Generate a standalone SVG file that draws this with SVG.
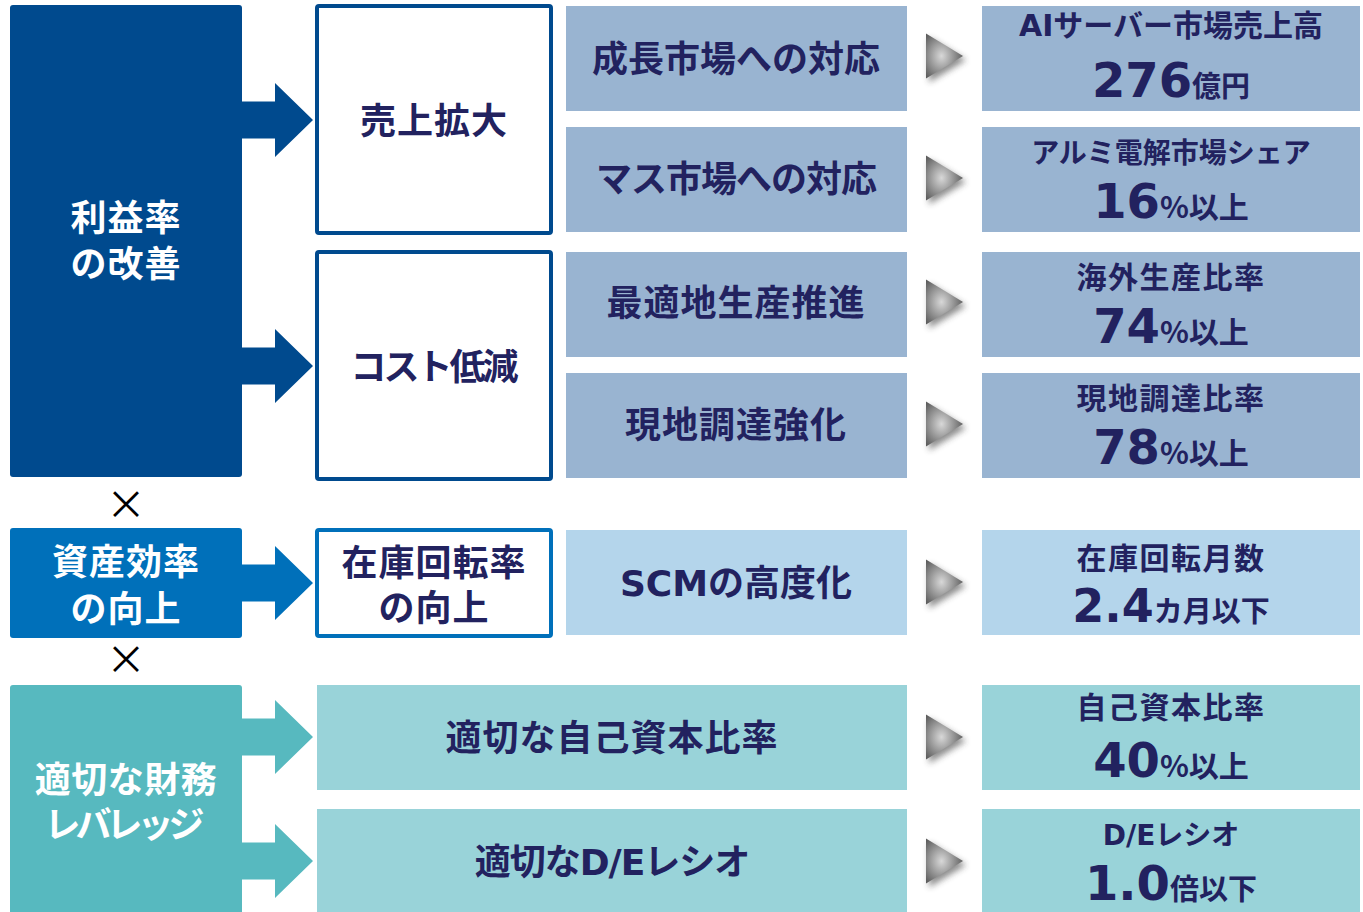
<svg xmlns="http://www.w3.org/2000/svg" width="1363" height="912" viewBox="0 0 1363 912">
<style>
.jp{font-family:"Noto Sans CJK JP","Noto Sans CJK SC",sans-serif;font-weight:700;text-anchor:middle}
.w{fill:#FFFFFF}
.n{fill:#22225F}
.lat{font-family:"DejaVu Sans","Noto Sans CJK JP",sans-serif;font-weight:700}
.num{font-family:"DejaVu Sans",sans-serif;font-weight:700;font-size:48px}
.f36{font-size:36px}
.f34{font-size:34px}
.f30{font-size:30px}
.f29{font-size:29px}
.f28{font-size:28px}
.b1{fill:#99B4D1}
.b2{fill:#B4D5EB}
.b3{fill:#99D3D9}
.ol{fill:#FFFFFF;stroke-width:4}
.tri{fill:url(#tg)}
.sh{fill:#333;opacity:0.55;filter:url(#blur)}
.x{font-family:"Noto Sans CJK JP",sans-serif;font-weight:400;font-size:40px;fill:#000;text-anchor:middle}
</style>
<defs>
<radialGradient id="tg" cx="0.42" cy="0.5" r="0.6">
<stop offset="0" stop-color="#D8D8D8"/>
<stop offset="1" stop-color="#5E5E5E"/>
</radialGradient>
<filter id="blur" x="-50%" y="-50%" width="200%" height="200%"><feGaussianBlur stdDeviation="3"/></filter>
<polygon id="t" points="0,-22.5 37,0 0,22.5"/>
</defs>

<g id="connectors">
<polygon fill="#004A8E" points="240,101.5 275,101.5 275,83 313,120 275,157 275,138.5 240,138.5"/>
<polygon fill="#004A8E" points="240,347.5 275,347.5 275,329 313,366 275,403 275,384.5 240,384.5"/>
<polygon fill="#0070BA" points="240,564.5 275,564.5 275,546 313,583 275,620 275,601.5 240,601.5"/>
<polygon fill="#57B9BF" points="240,718.5 275,718.5 275,700 313,737 275,774 275,755.5 240,755.5"/>
<polygon fill="#57B9BF" points="240,842.5 275,842.5 275,824 313,861 275,898 275,879.5 240,879.5"/>
<g>
<use href="#t" class="sh" x="929" y="60"/><use href="#t" class="tri" x="926" y="56"/>
<use href="#t" class="sh" x="929" y="182"/><use href="#t" class="tri" x="926" y="178"/>
<use href="#t" class="sh" x="929" y="306"/><use href="#t" class="tri" x="926" y="302"/>
<use href="#t" class="sh" x="929" y="428"/><use href="#t" class="tri" x="926" y="424"/>
<use href="#t" class="sh" x="929" y="586"/><use href="#t" class="tri" x="926" y="582"/>
<use href="#t" class="sh" x="929" y="741"/><use href="#t" class="tri" x="926" y="737"/>
<use href="#t" class="sh" x="929" y="865"/><use href="#t" class="tri" x="926" y="861"/>
</g>
</g>

<g id="left1">
<rect x="10" y="5" width="232" height="472" rx="3" fill="#004A8E"/>
<text class="jp w f36" letter-spacing="1"><tspan x="126" y="231">利益率</tspan><tspan x="126" y="277">の改善</tspan></text>
</g>
<g id="times1"><text class="x" x="126" y="519">×</text></g>
<g id="left2">
<rect x="10" y="528" width="232" height="110" rx="3" fill="#0070BA"/>
<text class="jp w f36" letter-spacing="1"><tspan x="126" y="575">資産効率</tspan><tspan x="126" y="622">の向上</tspan></text>
</g>
<g id="times2"><text class="x" x="126" y="674">×</text></g>
<g id="left3">
<rect x="10" y="685" width="232" height="232" rx="3" fill="#57B9BF"/>
<text class="jp w f36"><tspan x="126" y="793" letter-spacing="0.5">適切な財務</tspan><tspan x="122" y="838" letter-spacing="-5">レバレッジ</tspan></text>
</g>

<g id="mid1">
<rect class="ol" x="317" y="6" width="234" height="227" rx="2" stroke="#004A8E"/>
<text class="jp n f36" x="434" y="134" letter-spacing="1">売上拡大</text>
</g>
<g id="mid2">
<rect class="ol" x="317" y="252" width="234" height="227" rx="2" stroke="#004A8E"/>
<text class="jp n f36" x="433" y="380" letter-spacing="-3">コスト低減</text>
</g>
<g id="mid3">
<rect class="ol" x="317" y="530" width="234" height="106" rx="2" stroke="#0070BA"/>
<text class="jp n f36" letter-spacing="1"><tspan x="434" y="576">在庫回転率</tspan><tspan x="434" y="621">の向上</tspan></text>
</g>

<g id="m1"><rect class="b1" x="566" y="6" width="341" height="105"/><text class="jp n f36" x="736" y="72">成長市場への対応</text></g>
<g id="m2"><rect class="b1" x="566" y="127" width="341" height="105"/><text class="jp n f36" x="736" y="192" letter-spacing="-1">マス市場への対応</text></g>
<g id="m3"><rect class="b1" x="566" y="252" width="341" height="105"/><text class="jp n f36" x="736" y="316" letter-spacing="1">最適地生産推進</text></g>
<g id="m4"><rect class="b1" x="566" y="373" width="341" height="105"/><text class="jp n f36" x="736" y="438" letter-spacing="1">現地調達強化</text></g>
<g id="m5"><rect class="b2" x="566" y="530" width="341" height="105"/><text class="jp n f36" x="736" y="596"><tspan class="lat">SCM</tspan>の高度化</text></g>
<g id="m6"><rect class="b3" x="317" y="685" width="590" height="105"/><text class="jp n f36" x="612" y="751" letter-spacing="1">適切な自己資本比率</text></g>
<g id="m7"><rect class="b3" x="317" y="809" width="590" height="110"/><text class="jp n f36" x="612" y="875" letter-spacing="-1">適切な<tspan class="lat">D/E</tspan>レシオ</text></g>

<g id="r1"><rect class="b1" x="982" y="6" width="378" height="105"/>
<text class="jp n f30" x="1171" y="36"><tspan class="lat">AI</tspan>サーバー市場売上高</text>
<text class="jp n f29" x="1171" y="97"><tspan class="num">276</tspan>億円</text></g>
<g id="r2"><rect class="b1" x="982" y="127" width="378" height="105"/>
<text class="jp n f28" x="1171" y="163">アルミ電解市場シェア</text>
<text class="jp n f30" x="1171" y="218"><tspan class="num">16</tspan>%以上</text></g>
<g id="r3"><rect class="b1" x="982" y="252" width="378" height="105"/>
<text class="jp n f30" x="1171" y="288" letter-spacing="1.5">海外生産比率</text>
<text class="jp n f30" x="1171" y="343"><tspan class="num">74</tspan>%以上</text></g>
<g id="r4"><rect class="b1" x="982" y="373" width="378" height="105"/>
<text class="jp n f30" x="1171" y="409" letter-spacing="1.5">現地調達比率</text>
<text class="jp n f30" x="1171" y="464"><tspan class="num">78</tspan>%以上</text></g>
<g id="r5"><rect class="b2" x="982" y="530" width="378" height="105"/>
<text class="jp n f30" x="1171" y="569" letter-spacing="1.5">在庫回転月数</text>
<text class="jp n f29" x="1171" y="622"><tspan class="num" style="font-size:46px">2.4</tspan>カ月以下</text></g>
<g id="r6"><rect class="b3" x="982" y="685" width="378" height="105"/>
<text class="jp n f30" x="1171" y="718" letter-spacing="1.5">自己資本比率</text>
<text class="jp n f30" x="1171" y="777"><tspan class="num">40</tspan>%以上</text></g>
<g id="r7"><rect class="b3" x="982" y="809" width="378" height="110"/>
<text class="jp n f28" x="1171" y="845"><tspan class="lat">D/E</tspan>レシオ</text>
<text class="jp n f29" x="1171" y="900"><tspan class="num">1.0</tspan>倍以下</text></g>
</svg>
